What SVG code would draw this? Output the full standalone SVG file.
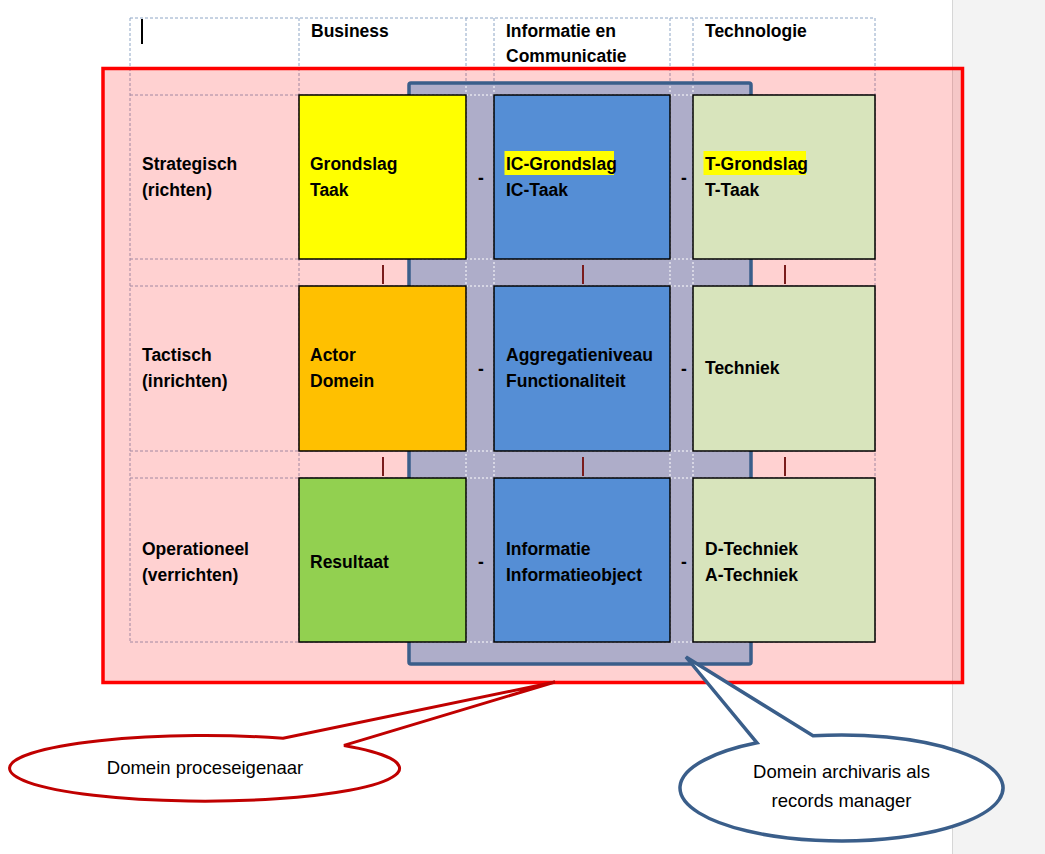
<svg xmlns="http://www.w3.org/2000/svg" width="1045" height="854" viewBox="0 0 1045 854">
<style>
  .t{font-family:"Liberation Sans",Arial,sans-serif;font-weight:bold;font-size:17.5px;fill:#000}
  .c{font-family:"Liberation Sans",Arial,sans-serif;font-size:18.5px;fill:#000;text-anchor:middle}
  .grid{stroke:#8ea6c6;stroke-width:1;stroke-dasharray:3 2;fill:none}
  .gridw{stroke:#ffffff;stroke-width:1;stroke-dasharray:2 2;fill:none}
  .cell{stroke:#000;stroke-width:1.5}
  .bar{stroke:#7a1c1c;stroke-width:2}
  .dash{text-anchor:middle}
</style>
<defs>
  <clipPath id="grayClip"><rect x="411" y="85" width="338" height="577"/></clipPath>
</defs>
<rect x="0" y="0" width="1045" height="854" fill="#ffffff"/>
<rect x="952" y="0" width="93" height="854" fill="#f3f3f3"/>
<line x1="952.5" y1="0" x2="952.5" y2="854" stroke="#d6d6d6" stroke-width="1"/>

<g id="grid">
  <path class="grid" d="M130,18V642M299,18V642M466,18V642M494,18V642M670,18V642M693,18V642M875,18V642M130,18H875M130,95H875M130,259H875M130,286H875M130,451H875M130,478H875M130,642H875"/>
</g>

<g id="domein-proceseigenaar-area">
  <rect x="103" y="68.5" width="859.5" height="614" fill="#ff0000" fill-opacity="0.18" stroke="#ff0000" stroke-width="3.5"/>
</g>
<g id="domein-archivaris-area">
  <rect x="409" y="83" width="342" height="581" rx="2" fill="#aeadc9" stroke="#3a5e8a" stroke-width="3.5"/>
  <path class="gridw" clip-path="url(#grayClip)" d="M466,18V642M494,18V642M670,18V642M693,18V642M130,95H875M130,259H875M130,286H875M130,451H875M130,478H875M130,642H875"/>
</g>

<line x1="142" y1="19" x2="142" y2="44" stroke="#000" stroke-width="2"/>

<g id="headers">
  <text class="t" x="311" y="37">Business</text>
  <text class="t" x="506" y="37">Informatie  en</text>
  <text class="t" x="506" y="62">Communicatie</text>
  <text class="t" x="705" y="37">Technologie</text>
</g>

<g id="row-labels">
  <text class="t" x="142" y="170">Strategisch</text>
  <text class="t" x="142" y="196">(richten)</text>
  <text class="t" x="142" y="361">Tactisch</text>
  <text class="t" x="142" y="387">(inrichten)</text>
  <text class="t" x="142" y="555">Operationeel</text>
  <text class="t" x="142" y="581">(verrichten)</text>
</g>

<g id="grondslag-taak">
  <rect class="cell" x="299" y="95" width="167" height="164" fill="#ffff00"/>
  <text class="t" x="310" y="170">Grondslag</text>
  <text class="t" x="310" y="196">Taak</text>
</g>
<g id="ic-grondslag">
  <rect class="cell" x="494" y="95" width="176" height="164" fill="#558ed5"/>
  <rect x="504.5" y="151" width="109.5" height="24" fill="#ffff00"/>
  <text class="t" x="506" y="170">IC-Grondslag</text>
  <text class="t" x="506" y="196">IC-Taak</text>
</g>
<g id="t-grondslag">
  <rect class="cell" x="693" y="95" width="182" height="164" fill="#d8e4bc"/>
  <rect x="703.5" y="151" width="102.5" height="24" fill="#ffff00"/>
  <text class="t" x="705" y="170">T-Grondslag</text>
  <text class="t" x="705" y="196">T-Taak</text>
</g>

<g id="actor-domein">
  <rect class="cell" x="299" y="286" width="167" height="165" fill="#ffc000"/>
  <text class="t" x="310" y="361">Actor</text>
  <text class="t" x="310" y="387">Domein</text>
</g>
<g id="aggregatieniveau">
  <rect class="cell" x="494" y="286" width="176" height="165" fill="#558ed5"/>
  <text class="t" x="506" y="361">Aggregatieniveau</text>
  <text class="t" x="506" y="387">Functionaliteit</text>
</g>
<g id="techniek">
  <rect class="cell" x="693" y="286" width="182" height="165" fill="#d8e4bc"/>
  <text class="t" x="705" y="374">Techniek</text>
</g>

<g id="resultaat">
  <rect class="cell" x="299" y="478" width="167" height="164" fill="#92d050"/>
  <text class="t" x="310" y="568">Resultaat</text>
</g>
<g id="informatie">
  <rect class="cell" x="494" y="478" width="176" height="164" fill="#558ed5"/>
  <text class="t" x="506" y="555">Informatie</text>
  <text class="t" x="506" y="581">Informatieobject</text>
</g>
<g id="d-a-techniek">
  <rect class="cell" x="693" y="478" width="182" height="164" fill="#d8e4bc"/>
  <text class="t" x="705" y="555">D-Techniek</text>
  <text class="t" x="705" y="581">A-Techniek</text>
</g>

<g id="connectors">
  <text class="t dash" x="481" y="184">-</text>
  <text class="t dash" x="684" y="184">-</text>
  <text class="t dash" x="481" y="375">-</text>
  <text class="t dash" x="684" y="375">-</text>
  <text class="t dash" x="481" y="568">-</text>
  <text class="t dash" x="684" y="568">-</text>
  <line class="bar" x1="383" y1="265" x2="383" y2="284"/>
  <line class="bar" x1="583" y1="265" x2="583" y2="284"/>
  <line class="bar" x1="785" y1="265" x2="785" y2="284"/>
  <line class="bar" x1="383" y1="457" x2="383" y2="476"/>
  <line class="bar" x1="583" y1="457" x2="583" y2="476"/>
  <line class="bar" x1="785" y1="457" x2="785" y2="476"/>
</g>

<g id="callout-proceseigenaar">
  <path d="M283,738.3 L555,682 L344,745.4 A195 32.8 0 1 1 283,738.3 Z" fill="#ffffff" stroke="#c00000" stroke-width="3" stroke-linejoin="miter"/>
  <text class="c" x="205" y="774">Domein proceseigenaar</text>
</g>
<g id="callout-archivaris">
  <path d="M757,742.8 L686,657 L813,735.8 A161.5 53 0 1 1 757,742.8 Z" fill="#ffffff" stroke="#3a5e8a" stroke-width="3.5" stroke-linejoin="miter"/>
  <text class="c" x="841.5" y="778">Domein archivaris als</text>
  <text class="c" x="841.5" y="807">records manager</text>
</g>
</svg>
